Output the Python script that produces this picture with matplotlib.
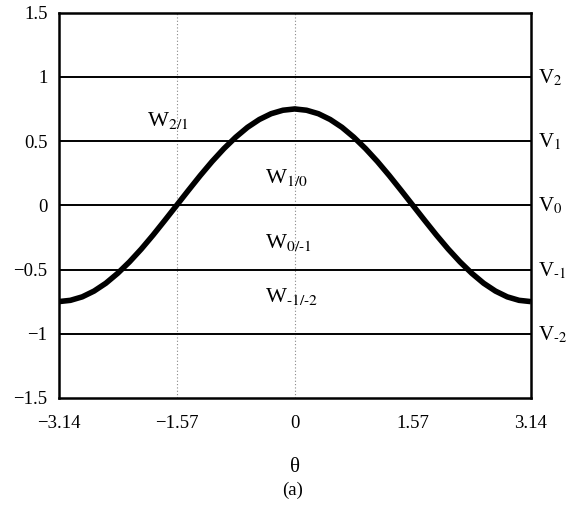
import numpy as np
import matplotlib
matplotlib.use("Agg")
import matplotlib.pyplot as plt

plt.rcParams['font.family'] = 'Liberation Serif'
plt.rcParams['mathtext.fontset'] = 'stix'

# curve
theta = [-3.14, -2.983, -2.826, -2.669, -2.512, -2.355, -2.198, -2.041, -1.884, -1.727,
         -1.57, -1.413, -1.256, -1.099, -0.942, -0.785, -0.628, -0.471, -0.314, -0.157,
         0.0, 0.157, 0.314, 0.471, 0.628, 0.785, 0.942, 1.099, 1.256, 1.413,
         1.57, 1.727, 1.884, 2.041, 2.198, 2.355, 2.512, 2.669, 2.826, 2.983, 3.14]
v = [-0.75, -0.74, -0.713, -0.668, -0.607, -0.53, -0.441, -0.341, -0.232, -0.117,
     0.0, 0.117, 0.232, 0.341, 0.441, 0.53, 0.607, 0.668, 0.713, 0.74,
     0.75, 0.74, 0.713, 0.668, 0.607, 0.53, 0.441, 0.341, 0.232, 0.117,
     0.0, -0.117, -0.232, -0.341, -0.441, -0.53, -0.607, -0.668, -0.713, -0.74, -0.75]

levels = [1, 0.5, 0, -0.5, -1]
level_names = [r'V$_{\text{2}}$', r'V$_{\text{1}}$', r'V$_{\text{0}}$',
               r'V$_{\text{-1}}$', r'V$_{\text{-2}}$']
vlines_x = [-1.57, 0]

w_names = [r'W$_{\text{2/1}}$', r'W$_{\text{1/0}}$', r'W$_{\text{0/-1}}$', r'W$_{\text{-1/-2}}$']
w_x = [-1.96, -0.39, -0.39, -0.39]
w_y = [0.66, 0.22, -0.29, -0.71]

xticks = [-3.14, -1.57, 0, 1.57, 3.14]
xtick_labels = ['\u22123.14', '\u22121.57', '0', '1.57', '3.14']
yticks = [-1.5, -1, -0.5, 0, 0.5, 1, 1.5]
ytick_labels = ['\u22121.5', '\u22121', '\u22120.5', '0', '0.5', '1', '1.5']

fig = plt.figure(figsize=(5.69, 5.05), dpi=100)
ax = fig.add_axes([0.103, 0.212, 0.830, 0.763])

for x in vlines_x:
    ax.axvline(x, color='#888888', lw=0.8, ls=(0, (1, 2)))
for y in levels:
    ax.axhline(y, color='black', lw=1.4)

ax.plot(theta, v, color='black', lw=4, solid_capstyle='butt', solid_joinstyle='round')

for y, name in zip(levels, level_names):
    ax.text(3.24, y - 0.05, name, fontsize=15, ha='left', va='baseline', clip_on=False)

for x, y, name in zip(w_x, w_y, w_names):
    ax.text(x, y, name, fontsize=16, ha='left', va='center')

ax.set_xlim(-3.14, 3.14)
ax.set_ylim(-1.5, 1.5)
ax.set_xticks(xticks)
ax.set_xticklabels(xtick_labels, fontsize=13.5)
ax.set_yticks(yticks)
ax.set_yticklabels(ytick_labels, fontsize=13.5)
ax.tick_params(axis='y', length=0, pad=8)
ax.tick_params(axis='x', length=0, pad=12)
for s in ax.spines.values():
    s.set_linewidth(1.8)

ax.set_xlabel('\u03b8', fontsize=15, labelpad=19)
fig.text(0.515, 0.03, '(a)', fontsize=13.5, ha='center', va='center')

plt.savefig('out.png', dpi=100)
